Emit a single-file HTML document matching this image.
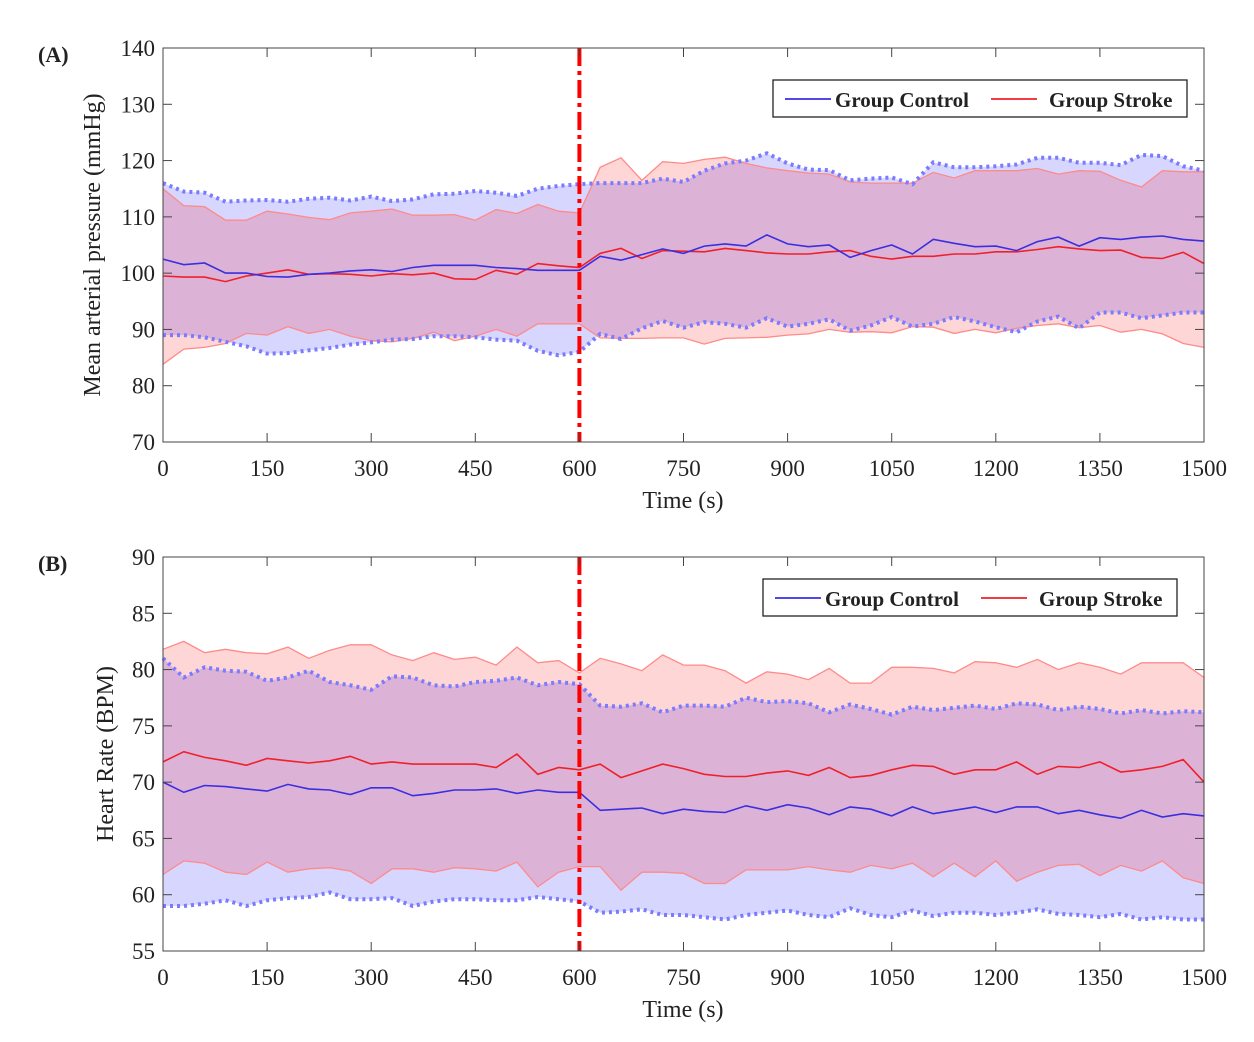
<!DOCTYPE html>
<html><head><meta charset="utf-8"><style>
body{margin:0;background:#fff}
svg text{font-family:"Liberation Serif",serif;fill:#222}
</style></head><body>
<svg id="fig" width="1254" height="1037" xmlns="http://www.w3.org/2000/svg"></svg>
<script>
const times=[];for(let i=0;i<=50;i++)times.push(i*30);
const xTicks=[0,150,300,450,600,750,900,1050,1200,1350,1500];
const mapControlMean=[102.5,101.5,101.8,100,100,99.4,99.3,99.8,100,100.4,100.6,100.3,101,101.4,101.4,101.4,101,100.8,100.5,100.5,100.5,103,102.3,103.3,104.3,103.5,104.8,105.2,104.8,106.8,105.2,104.7,105,102.8,104,105,103.4,106,105.3,104.7,104.8,104,105.6,106.4,104.8,106.3,106,106.4,106.6,106,105.7];
const mapStrokeMean=[99.5,99.3,99.3,98.5,99.5,100,100.6,99.8,99.9,99.8,99.5,99.9,99.7,100,99,98.9,100.5,99.8,101.7,101.3,101,103.5,104.4,102.6,104,103.9,103.8,104.4,104,103.6,103.4,103.4,103.8,104,103,102.5,103,103,103.4,103.4,103.8,103.8,104.2,104.7,104.3,104,104.1,102.8,102.6,103.7,101.7];
const mapControlUpper=[116,114.5,114.3,112.7,112.9,113,112.7,113.2,113.4,112.9,113.6,112.8,113.1,114,114.1,114.6,114.3,113.7,115,115.5,115.8,116,116,116,116.8,116.2,118.2,119.5,120,121.3,119.5,118.4,118.3,116.5,116.8,117,115.8,119.7,118.8,118.8,119,119.3,120.5,120.5,119.6,119.6,119.2,121,120.8,119,118.2];
const mapStrokeUpper=[115,112,111.8,109.4,109.4,111,110.5,109.9,109.5,110.7,111,111.4,110.3,110.3,110.4,109.4,111.3,110.6,112.2,111,110.7,118.8,120.5,116.5,119.8,119.5,120.2,120.6,119.5,118.7,118.2,117.8,117.6,116.2,116,116,116,117.9,116.9,118.2,118.2,118.2,118.6,117.6,118.2,118.1,116.5,115.3,118.2,118,118];
const mapControlLower=[89,89,88.6,87.8,87,85.7,85.8,86.3,86.7,87.3,87.7,88.2,88.3,88.8,88.8,88.6,88.2,88,86.2,85.4,86,89.2,88.3,90.2,91.5,90.3,91.3,91,90.3,92,90.5,91,91.8,89.8,90.7,92.2,90.5,91,92.2,91.4,90.4,89.5,91.4,92.3,90.2,93,93,92,92.5,93,93];
const mapStrokeLower=[83.8,86.5,86.8,87.5,89.3,89,90.5,89.3,90,88.8,88,87.8,88.4,89.5,88,88.8,90,88.8,91,91,91,88.5,88.4,88.4,88.5,88.5,87.4,88.4,88.5,88.6,89,89.2,90,89.5,89.6,89.4,90.5,90.4,89.3,90,89.4,90.2,90.7,91,90.3,90.7,89.5,90,89.2,87.5,86.8];
const hrControlMean=[70,69.1,69.7,69.6,69.4,69.2,69.8,69.4,69.3,68.9,69.5,69.5,68.8,69,69.3,69.3,69.4,69,69.3,69.1,69.1,67.5,67.6,67.7,67.2,67.6,67.4,67.3,67.9,67.5,68,67.7,67.1,67.8,67.6,67,67.8,67.2,67.5,67.8,67.3,67.8,67.8,67.2,67.5,67.1,66.8,67.5,66.9,67.2,67];
const hrStrokeMean=[71.8,72.7,72.2,71.9,71.5,72.1,71.9,71.7,71.9,72.3,71.6,71.8,71.6,71.6,71.6,71.6,71.3,72.5,70.7,71.3,71.1,71.6,70.4,71,71.6,71.2,70.7,70.5,70.5,70.8,71,70.6,71.3,70.4,70.6,71.1,71.5,71.4,70.7,71.1,71.1,71.8,70.7,71.4,71.3,71.8,70.9,71.1,71.4,72,70];
const hrControlUpper=[81,79.3,80.2,79.9,79.8,79,79.3,79.9,78.9,78.6,78.2,79.4,79.3,78.6,78.5,78.9,79,79.3,78.6,78.9,78.7,76.8,76.7,77,76.2,76.8,76.8,76.7,77.5,77.1,77.2,77,76.2,76.9,76.5,76,76.7,76.4,76.6,76.8,76.5,77,76.9,76.4,76.7,76.5,76.1,76.4,76.1,76.3,76.2];
const hrStrokeUpper=[81.8,82.5,81.5,81.8,81.5,81.4,82,81,81.7,82.2,82.2,81.3,80.8,81.5,80.9,81.1,80.4,82,80.6,80.8,79.7,81,80.5,79.9,81.3,80.4,80.4,79.9,78.8,79.8,79.6,79.1,80.1,78.8,78.8,80.2,80.2,80.1,79.7,80.7,80.6,80.2,80.9,80,80.6,80.2,79.6,80.6,80.6,80.6,79.3];
const hrControlLower=[59,59,59.2,59.5,59,59.5,59.7,59.8,60.2,59.6,59.6,59.7,59,59.4,59.6,59.6,59.5,59.5,59.8,59.6,59.4,58.4,58.5,58.7,58.2,58.2,58,57.8,58.2,58.4,58.6,58.2,58,58.8,58.2,58,58.6,58.1,58.4,58.4,58.2,58.4,58.7,58.3,58.2,58,58.3,57.8,58,57.8,57.8];
const hrStrokeLower=[61.8,63,62.8,62,61.8,62.9,62,62.3,62.4,62.1,61,62.3,62.3,62,62.4,62.3,62.1,62.9,60.7,62,62.5,62.5,60.4,62,62,61.9,61,61,62.2,62.2,62.2,62.5,62.2,62,62.6,62.3,62.8,61.6,62.8,61.6,63,61.2,62,62.6,62.7,61.7,62.6,62.1,63,61.5,61];
const mapYTicks=[70,80,90,100,110,120,130,140];
const hrYTicks=[55,60,65,70,75,80,85,90];
const eventTime=[600];

const NS='http://www.w3.org/2000/svg';
const svg=document.getElementById('fig');
function el(tag,attrs,parent){const e=document.createElementNS(NS,tag);for(const k in attrs)e.setAttribute(k,attrs[k]);(parent||svg).appendChild(e);return e;}

function panel(o){
  const g=el('g',{});
  
  
  const L=163,R=1204,T=o.top,B=o.top+394;
  const xs=t=>L+(t-0)/1500*(R-L);
  const ys=v=>B-(v-o.ymin)/(o.ymax-o.ymin)*(B-T);
  const pts=(arr)=>arr.map((v,i)=>xs(times[i]).toFixed(1)+','+ys(v).toFixed(1));
  function band(up,lo,color,name){
    const p=el('polygon',{points:pts(up).concat(pts(lo).reverse()).join(' '),fill:color,'fill-opacity':0.16,stroke:'none'},g);
    
    
  }
  band(o.cu,o.cl,'#0000ff','control-sd-band');
  band(o.su,o.sl,'#ff0000','stroke-sd-band');
  function line(arr,attrs,name){
    const p=el('polyline',Object.assign({points:pts(arr).join(' '),fill:'none'},attrs),g);
    
    
  }
  line(o.su,{stroke:'#ff8a8a','stroke-width':1.3},'stroke-upper-bound');
  line(o.sl,{stroke:'#ff8a8a','stroke-width':1.3},'stroke-lower-bound');
  line(o.cu,{stroke:'#7b7bff','stroke-width':4,'stroke-dasharray':'3 4'},'control-upper-bound');
  line(o.cl,{stroke:'#7b7bff','stroke-width':4,'stroke-dasharray':'3 4'},'control-lower-bound');
  line(o.sm,{stroke:'#f0202a','stroke-width':1.6},'stroke-mean-line');
  line(o.cm,{stroke:'#3a2ee0','stroke-width':1.6},'control-mean-line');
  // event line
  const ev=el('line',{x1:xs(eventTime[0]),x2:xs(eventTime[0]),y1:T,y2:B,stroke:'#ff0000','stroke-width':4,'stroke-dasharray':'18 5 4 5'},g);
  
  
  // axes box
  const box=el('rect',{x:L,y:T,width:R-L,height:B-T,fill:'none',stroke:'#444','stroke-width':1},g);
  
  
  xTicks.forEach(t=>{
    const x=xs(t);
    el('line',{x1:x,x2:x,y1:B,y2:B-9,stroke:'#444'},g);
    el('line',{x1:x,x2:x,y1:T,y2:T+9,stroke:'#444'},g);
    const tx=el('text',{x:x,y:B+34,'text-anchor':'middle','font-size':23},g);
    tx.textContent=t;
    
    
  });
  o.yt.forEach(v=>{
    const y=ys(v);
    el('line',{x1:L,x2:L+9,y1:y,y2:y,stroke:'#444'},g);
    el('line',{x1:R,x2:R-9,y1:y,y2:y,stroke:'#444'},g);
    const tx=el('text',{x:L-8,y:y+8,'text-anchor':'end','font-size':23},g);
    tx.textContent=v;
    
    
  });
  const xt=el('text',{x:683,y:B+66,'text-anchor':'middle','font-size':24},g);
  xt.textContent='Time (s)';
  
  
  const yt=el('text',{x:0,y:0,'text-anchor':'middle','font-size':24,transform:`translate(${o.ytx},${(T+B)/2}) rotate(-90)`},g);
  yt.textContent=o.ytitle;
  
  
  const lab=el('text',{x:38,y:T+14,'font-size':22,'font-weight':'bold'},g);
  lab.textContent=o.label;
  
  
  // legend
  const lg=el('g',{},g);
  
  
  el('rect',{x:o.lx,y:o.ly,width:414,height:37,fill:'#fff',stroke:'#222','stroke-width':1.3},lg);
  el('line',{x1:o.lx+12,x2:o.lx+58,y1:o.ly+19,y2:o.ly+19,stroke:'#3a2ee0','stroke-width':1.8},lg);
  const t1=el('text',{x:o.lx+62,y:o.ly+27,'font-size':21,'font-weight':'bold'},lg);
  t1.textContent='Group Control';
  
  
  el('line',{x1:o.lx+218,x2:o.lx+264,y1:o.ly+19,y2:o.ly+19,stroke:'#f0202a','stroke-width':1.8},lg);
  const t2=el('text',{x:o.lx+276,y:o.ly+27,'font-size':21,'font-weight':'bold'},lg);
  t2.textContent='Group Stroke';
  
  
}
panel({name:'panel-a-map',top:48,ymin:70,ymax:140,yt:mapYTicks,cm:mapControlMean,sm:mapStrokeMean,cu:mapControlUpper,cl:mapControlLower,su:mapStrokeUpper,sl:mapStrokeLower,ytitle:'Mean arterial pressure (mmHg)',ytx:100,label:'(A)',lx:773,ly:80});
panel({name:'panel-b-hr',top:557,ymin:55,ymax:90,yt:hrYTicks,cm:hrControlMean,sm:hrStrokeMean,cu:hrControlUpper,cl:hrControlLower,su:hrStrokeUpper,sl:hrStrokeLower,ytitle:'Heart Rate (BPM)',ytx:113,label:'(B)',lx:763,ly:579});
</script>
</body></html>
